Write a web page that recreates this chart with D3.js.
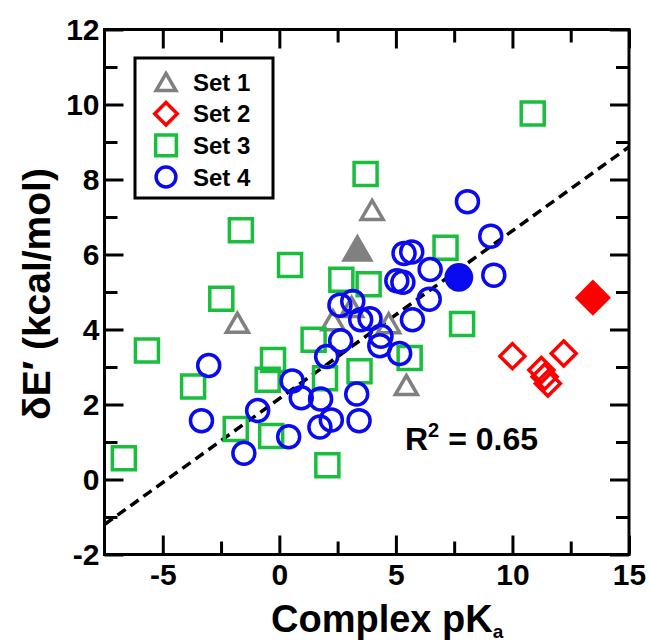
<!DOCTYPE html>
<html>
<head>
<meta charset="utf-8">
<script src="https://cdn.jsdelivr.net/npm/d3@7"></script>
<style>
  body { margin: 0; background: #fff; }
  text { font-family: "Liberation Sans", Arial, Helvetica, sans-serif; font-weight: bold; }
</style>
</head>
<body>
<div id="chart"></div>
<script>
// data: [complex pKa, dE' kcal/mol]
var set1 = [[-1.8, 4.18], [2.3, 4.25], [3.1, 4.6], [3.98, 7.19], [4.69, 4.17], [5.45, 2.52]];
var set1Filled = [[3.35, 6.16]];
var set2 = [[10.0, 3.29], [12.2, 3.36], [11.24, 2.92], [11.38, 2.74], [11.52, 2.56]];
var set2Filled = [[13.45, 4.85]];
var set3 = [[10.87, 9.76], [3.7, 8.15], [-1.65, 6.65], [0.46, 5.72], [7.13, 6.18], [2.66, 5.33],
            [3.83, 5.21], [-2.49, 4.82], [7.84, 4.15], [1.47, 3.73], [-5.68, 3.44], [-0.27, 3.19],
            [5.59, 3.24], [3.44, 2.89], [-0.5, 2.66], [1.96, 2.7], [-3.7, 2.48], [-1.87, 1.35],
            [-0.35, 1.16], [-6.67, 0.57], [2.06, 0.38]];
var set4 = [[-3.03, 3.04], [-3.34, 1.57], [-1.52, 0.7], [-0.93, 1.84], [0.55, 2.63], [0.94, 2.18],
            [0.4, 1.14], [1.77, 2.15], [1.74, 1.4], [2.23, 1.59], [3.32, 2.28], [3.42, 1.57],
            [2.03, 3.28], [2.63, 3.7], [2.6, 4.65], [3.15, 4.75], [3.49, 4.26], [3.89, 4.29],
            [4.36, 3.82], [4.31, 3.57], [5.16, 3.36], [5.71, 4.26], [5.04, 5.3], [5.3, 5.26],
            [5.35, 6.03], [5.68, 6.07], [6.47, 5.6], [6.43, 4.81], [8.07, 7.41], [9.07, 6.49],
            [9.2, 5.45]];
var set4Filled = [[7.7, 5.39]];
var fitLine = [[-7.5, -1.2], [15, 8.87]];

var xTicks = [-5, 0, 5, 10, 15];
var xMinor = [-2.5, 2.5, 7.5, 12.5];
var yTicks = [-2, 0, 2, 4, 6, 8, 10, 12];
var yMinor = [-1, 1, 3, 5, 7, 9, 11];
var legendLabels = ["Set 1", "Set 2", "Set 3", "Set 4"];

var width = 650, height = 643;
var margin = { top: 29.5, right: 21, bottom: 88.5, left: 104.5 };

var svg = d3.select("#chart").append("svg")
    .attr("width", width)
    .attr("height", height);

var x = d3.scaleLinear().domain([-7.5, 15]).range([margin.left, width - margin.right]);
var y = d3.scaleLinear().domain([-2, 12]).range([height - margin.bottom, margin.top]);

var colors = { s1: "#808080", s2: "#ff0000", s3: "#19bf3c", s4: "#0a0af0" };

// plain hyphen for negatives, like the original
var fmt = d => String(d);

// marker paths
function shape(kind, s) {
    s = s || 1;
    if (kind == "tri") {
        var w = 22 * s, h = 19 * s;
        return "M0," + (-h / 2) + "L" + (w / 2) + "," + (h / 2) + "L" + (-w / 2) + "," + (h / 2) + "Z";
    }
    if (kind == "dia") {
        var r = 12.5 * s;
        return "M0," + (-r) + "L" + r + ",0L0," + r + "L" + (-r) + ",0Z";
    }
    if (kind == "sq") {
        var a = 11.5 * s;
        return "M" + (-a) + "," + (-a) + "H" + a + "V" + a + "H" + (-a) + "Z";
    }
    var c = 11 * s;
    return "M" + (-c) + ",0A" + c + "," + c + " 0 1,0 " + c + ",0A" + c + "," + c + " 0 1,0 " + (-c) + ",0Z";
}

var plotH = height - margin.bottom - margin.top;
var plotW = width - margin.right - margin.left;

// axes, ticks inward on all four sides
var bx = svg.append("g").attr("transform", `translate(0,${y(-2)})`)
    .call(d3.axisBottom(x).tickValues(xTicks).tickSize(-19).tickPadding(9).tickFormat(fmt));
var bxm = svg.append("g").attr("transform", `translate(0,${y(-2)})`)
    .call(d3.axisBottom(x).tickValues(xMinor).tickSize(-13).tickFormat(""));
var tx = svg.append("g").attr("transform", `translate(0,${y(12)})`)
    .call(d3.axisTop(x).tickValues(xTicks).tickSize(-19).tickFormat(""));
var txm = svg.append("g").attr("transform", `translate(0,${y(12)})`)
    .call(d3.axisTop(x).tickValues(xMinor).tickSize(-13).tickFormat(""));
var ly = svg.append("g").attr("transform", `translate(${x(-7.5)},0)`)
    .call(d3.axisLeft(y).tickValues(yTicks).tickSize(-19).tickPadding(5).tickFormat(fmt));
var lym = svg.append("g").attr("transform", `translate(${x(-7.5)},0)`)
    .call(d3.axisLeft(y).tickValues(yMinor).tickSize(-13).tickFormat(""));
var ry = svg.append("g").attr("transform", `translate(${x(15)},0)`)
    .call(d3.axisRight(y).tickValues(yTicks).tickSize(-19).tickFormat(""));
var rym = svg.append("g").attr("transform", `translate(${x(15)},0)`)
    .call(d3.axisRight(y).tickValues(yMinor).tickSize(-13).tickFormat(""));

[bx, bxm, tx, txm, ly, lym, ry, rym].forEach(function (g) {
    g.select(".domain").remove();
    g.selectAll("line").attr("stroke", "#000").attr("stroke-width", 3);
    g.selectAll("text").attr("fill", "#000").style("font-size", "30px")
        .style("font-family", "'Liberation Sans', Arial, sans-serif").style("font-weight", "bold");
});

// frame
svg.append("rect")
    .attr("x", x(-7.5)).attr("y", y(12))
    .attr("width", plotW).attr("height", plotH)
    .attr("fill", "none").attr("stroke", "#000").attr("stroke-width", 3);

// fit line
svg.append("path")
    .datum(fitLine)
    .attr("d", d3.line().x(d => x(d[0])).y(d => y(d[1])))
    .attr("fill", "none")
    .attr("stroke", "#000")
    .attr("stroke-width", 3.5)
    .attr("stroke-dasharray", "10,6");

function drawSet(data, kind, color, filled, s) {
    svg.append("g").selectAll("path")
        .data(data)
        .enter()
        .append("path")
        .attr("transform", d => `translate(${x(d[0])},${y(d[1])})`)
        .attr("d", shape(kind, s))
        .attr("fill", filled ? color : "none")
        .attr("stroke", color)
        .attr("stroke-width", 3.5)
        .attr("stroke-linejoin", "miter");
}

drawSet(set1, "tri", colors.s1, false);
drawSet(set1Filled, "tri", colors.s1, true, 1.2);
drawSet(set3, "sq", colors.s3, false);
drawSet(set2, "dia", colors.s2, false);
drawSet(set2Filled, "dia", colors.s2, true, 1.25);
drawSet(set4, "circ", colors.s4, false);
drawSet(set4Filled, "circ", colors.s4, true, 1.15);

// legend
var legend = svg.append("g");
legend.append("rect")
    .attr("x", 135).attr("y", 58).attr("width", 138).attr("height", 140)
    .attr("fill", "#fff").attr("stroke", "#000").attr("stroke-width", 3);
var legKinds = ["tri", "dia", "sq", "circ"];
var legColors = [colors.s1, colors.s2, colors.s3, colors.s4];
var legY = d3.scalePoint().domain(legendLabels).range([82, 177]);
legendLabels.forEach(function (lab, i) {
    legend.append("path")
        .attr("transform", `translate(166,${legY(lab)})`)
        .attr("d", shape(legKinds[i], 0.9))
        .attr("fill", "none")
        .attr("stroke", legColors[i])
        .attr("stroke-width", 3.5);
    legend.append("text")
        .attr("x", 193).attr("y", legY(lab))
        .attr("dy", "0.36em")
        .style("font-size", "24px")
        .text(lab);
});

// R^2 annotation
var r2 = svg.append("text").attr("x", 405).attr("y", 450).style("font-size", "32px");
r2.append("tspan").text("R");
r2.append("tspan").attr("dy", -13).style("font-size", "20px").text("2");
r2.append("tspan").attr("dy", 13).text(" = 0.65");

// axis titles
var xt = svg.append("text").attr("x", 271).attr("y", 632).style("font-size", "38px");
xt.append("tspan").text("Complex pK");
xt.append("tspan").attr("dy", 6).style("font-size", "19px").text("a");

svg.append("text")
    .attr("transform", `translate(50,294) rotate(-90)`)
    .attr("text-anchor", "middle")
    .style("font-size", "39px")
    .text("δE′ (kcal/mol)");
</script>
</body>
</html>
